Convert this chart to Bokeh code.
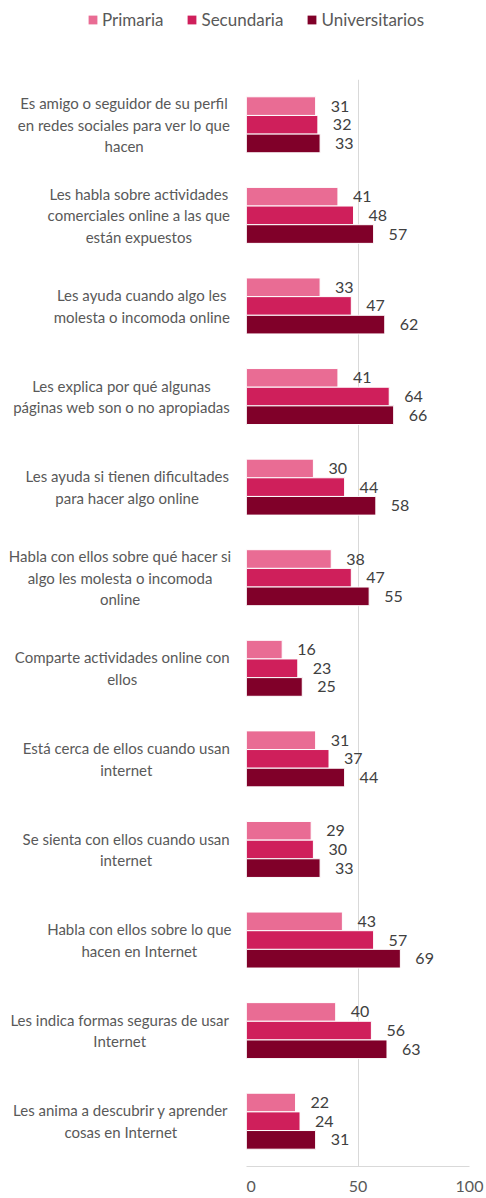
from bokeh.plotting import figure
from bokeh.layouts import column, row
from bokeh.models import (ColumnDataSource, FactorRange, Legend, LegendItem,
                          FixedTicker, Range1d)
from bokeh.core.properties import value
from bokeh.transform import dodge
from bokeh.embed import file_html
from bokeh.resources import INLINE

categories = [
    "Es amigo o seguidor de su perfil\nen redes sociales para ver lo que\nhacen",
    "Les habla sobre actividades\ncomerciales online a las que\nestán expuestos",
    "Les ayuda cuando algo les\nmolesta o incomoda online",
    "Les explica por qué algunas\npáginas web son o no apropiadas",
    "Les ayuda si tienen dificultades\npara hacer algo online",
    "Habla con ellos sobre qué hacer si\nalgo les molesta o incomoda\nonline",
    "Comparte actividades online con\nellos",
    "Está cerca de ellos cuando usan\ninternet",
    "Se sienta con ellos cuando usan\ninternet",
    "Habla con ellos sobre lo que\nhacen en Internet",
    "Les indica formas seguras de usar\nInternet",
    "Les anima a descubrir y aprender\ncosas en Internet",
]
primaria = [31, 41, 33, 41, 30, 38, 16, 31, 29, 43, 40, 22]
secundaria = [32, 48, 47, 64, 44, 47, 23, 37, 30, 57, 56, 24]
universitarios = [33, 57, 62, 66, 58, 55, 25, 44, 33, 69, 63, 31]
series_names = ["Primaria", "Secundaria", "Universitarios"]
colors = ["#E96C94", "#CF1F5B", "#800029"]
x_ticks = [0, 50, 100]

FONT = "Lato"
TEXT_COLOR = "#595959"
GRID = "#D9D9D9"
CAT_SIZE = 15

# approximate glyph advance widths (em) to lay out the category text blocks
# like the original: block right-aligned at the axis, lines centred inside it
_W = {" ": .193, "a": .507, "b": .56, "c": .464, "d": .56, "e": .521, "f": .322,
      "g": .502, "h": .56, "i": .24, "j": .24, "k": .503, "l": .24, "m": .831,
      "n": .56, "o": .56, "p": .554, "q": .56, "r": .37, "s": .426, "t": .355,
      "u": .56, "v": .51, "w": .773, "x": .489, "y": .51, "z": .45,
      "á": .507, "é": .521, "í": .24, "ó": .56, "ú": .56}


def est_width(line):
    em = sum(_W.get(ch, .62) for ch in line)
    return em * CAT_SIZE * 1.037


BLOCK_RIGHT = 231  # px, in the label panel
label_x = [BLOCK_RIGHT - max(est_width(l) for l in c.split("\n")) / 2 for c in categories]

src = ColumnDataSource(dict(cat=categories, Primaria=primaria, Secundaria=secundaria,
                            Universitarios=universitarios,
                            lp=[str(v) for v in primaria],
                            ls=[str(v) for v in secundaria],
                            lu=[str(v) for v in universitarios],
                            lx=label_x))

yr = FactorRange(*reversed(categories), range_padding=0)
H = 1156
TOP, BOTTOM = 39, 30
LEFT_W = 246

# ---- main bar figure ----
p = figure(width=238, height=H, output_backend="svg", toolbar_location=None,
           y_range=yr, x_range=Range1d(0, 100),
           min_border_left=0, min_border_right=15, min_border_top=TOP, min_border_bottom=BOTTOM)
p.outline_line_color = None

bh = 0.206
offsets = [bh, 0, -bh]
label_cols = ["lp", "ls", "lu"]
for name, col, off, lc in zip(series_names, colors, offsets, label_cols):
    p.hbar(y=dodge("cat", off, range=yr), right=name, left=0, height=bh,
           source=src, fill_color=col, line_color="white", line_width=1)
    p.text(x=name, y=dodge("cat", off, range=yr), text=lc, source=src, x_offset=15,
           text_baseline="middle", text_align="left", text_font=value(FONT),
           text_font_size="16px", text_color="#404040")

p.yaxis.visible = False
p.ygrid.grid_line_color = None

p.xaxis.ticker = FixedTicker(ticks=x_ticks)
p.xaxis.major_tick_line_color = None
p.xaxis.minor_tick_line_color = None
p.xaxis.axis_line_color = GRID
p.xaxis.major_label_text_font = FONT
p.xaxis.major_label_text_font_size = "16px"
p.xaxis.major_label_text_color = TEXT_COLOR
p.xaxis.major_label_standoff = 8
p.xgrid.ticker = FixedTicker(ticks=x_ticks)
p.xgrid.grid_line_color = GRID

# ---- category label figure ----
lf = figure(width=LEFT_W, height=H, output_backend="svg", toolbar_location=None,
            y_range=yr, x_range=Range1d(0, LEFT_W),
            min_border_left=0, min_border_right=0, min_border_top=TOP, min_border_bottom=BOTTOM)
lf.outline_line_color = None
lf.axis.visible = False
lf.grid.visible = False
lf.text(x="lx", y="cat", text="cat", source=src,
        text_align="center", text_baseline="middle", text_font=value(FONT),
        text_font_size=f"{CAT_SIZE}px", text_color=TEXT_COLOR, text_line_height=1.2)

# ---- legend figure ----
lg = figure(width=484, height=40, output_backend="svg", toolbar_location=None,
            x_range=Range1d(0, 1), y_range=Range1d(0, 1),
            min_border=0)
lg.outline_line_color = None
lg.axis.visible = False
lg.grid.visible = False
dummy = ColumnDataSource(dict(y=[-50], l=[-50], r=[-50]))
items = []
for name, col in zip(series_names, colors):
    r = lg.hbar(y="y", right="r", left="l", height=0.0, source=dummy,
                fill_color=col, line_color=None)
    items.append(LegendItem(label=name, renderers=[r]))
legend = Legend(items=items, orientation="horizontal", location=(87, 10),
                glyph_width=11, glyph_height=11, label_standoff=4, spacing=23,
                padding=0, margin=0, border_line_color=None, background_fill_alpha=0,
                label_text_font=FONT, label_text_font_size="17px",
                label_text_color=TEXT_COLOR, label_height=20)
lg.add_layout(legend, "center")

layout = column(lg, row(lf, p, spacing=0), spacing=0)
open("out.html", "w").write(file_html(layout, INLINE))
